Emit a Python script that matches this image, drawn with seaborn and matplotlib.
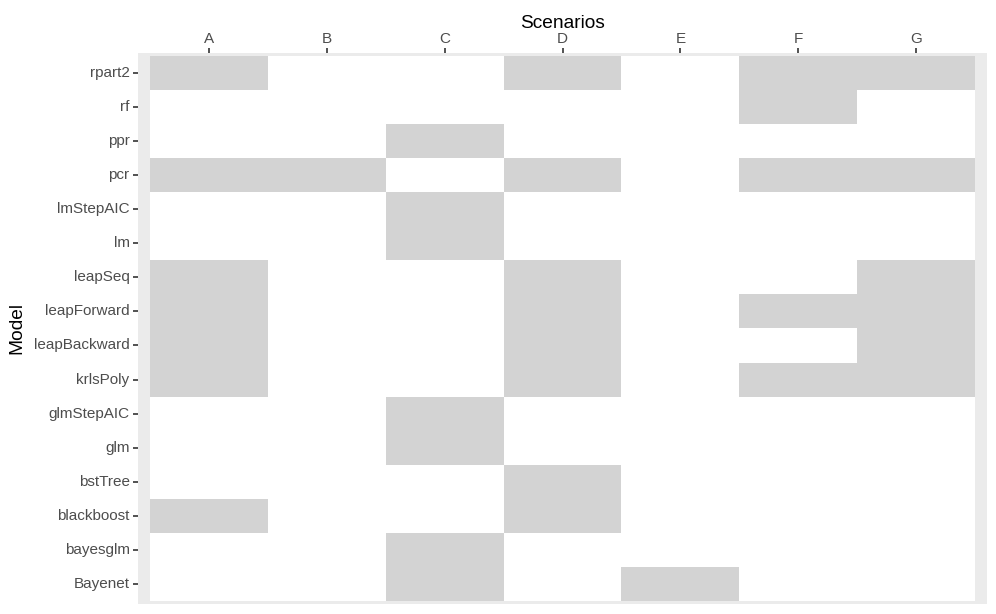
import numpy as np
import pandas as pd
import seaborn as sns
from matplotlib import pyplot as plt
from matplotlib.colors import ListedColormap

# scenarios and models (models listed top to bottom)
scenarios = ["A", "B", "C", "D", "E", "F", "G"]
models = ["rpart2", "rf", "ppr", "pcr", "lmStepAIC", "lm", "leapSeq", "leapForward",
          "leapBackward", "krlsPoly", "glmStepAIC", "glm", "bstTree", "blackboost",
          "bayesglm", "Bayenet"]

# scenarios in which each model is flagged (grey tile)
flagged = {
    "rpart2": ["A", "D", "F", "G"],
    "rf": ["F"],
    "ppr": ["C"],
    "pcr": ["A", "B", "D", "F", "G"],
    "lmStepAIC": ["C"],
    "lm": ["C"],
    "leapSeq": ["A", "D", "G"],
    "leapForward": ["A", "D", "F", "G"],
    "leapBackward": ["A", "D", "G"],
    "krlsPoly": ["A", "D", "F", "G"],
    "glmStepAIC": ["C"],
    "glm": ["C"],
    "bstTree": ["D"],
    "blackboost": ["A", "D"],
    "bayesglm": ["C"],
    "Bayenet": ["C", "E"],
}

rows = []
for m in models:
    for s in scenarios:
        rows.append({"Model": m, "Scenario": s, "Flag": int(s in flagged[m])})
df = pd.DataFrame(rows)
mat = df.pivot(index="Model", columns="Scenario", values="Flag").loc[models, scenarios]

plt.rcParams['font.family'] = ['Liberation Sans', 'DejaVu Sans']

fig = plt.figure(figsize=(9.96, 6.14), dpi=100)
ax = fig.add_axes([0.1386, 0.0163, 0.991 - 0.1386, 0.9137 - 0.0163])
sns.heatmap(mat, ax=ax, cmap=ListedColormap(["white", "#D3D3D3"]), vmin=0, vmax=1,
            cbar=False, linewidths=0)

ax.set_facecolor("#EBEBEB")
ax.set_xlim(-0.1, len(scenarios) + 0.1)
ax.set_ylim(len(models) + 0.1, -0.1)
for sp in ax.spines.values():
    sp.set_visible(False)

ax.xaxis.tick_top()
ax.xaxis.set_label_position("top")
ax.set_xticks(np.arange(len(scenarios)) + 0.5)
ax.set_xticklabels(scenarios, rotation=0)
ax.set_yticks(np.arange(len(models)) + 0.5)
ax.set_yticklabels(models, rotation=0)
ax.tick_params(axis='both', length=3.6, width=1.2, color="#333333",
               labelcolor="#4D4D4D", labelsize=11)
ax.tick_params(axis='x', pad=1.5)
ax.tick_params(axis='y', pad=2.5)
ax.set_xlabel("Scenarios", fontsize=13.75, color="black", labelpad=3)
ax.set_ylabel("Model", fontsize=13.75, color="black", labelpad=6)

plt.savefig("out.png", dpi=100)
